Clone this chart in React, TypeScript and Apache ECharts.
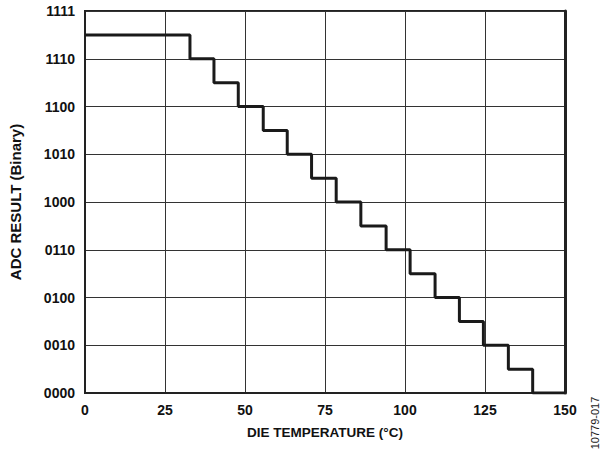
import React, { useEffect, useRef } from "react";
import * as echarts from "echarts";

// Temperatures (°C) where the output code changes, and the code held from each point on
const stepTemps = [0, 32.8, 40.3, 47.9, 55.7, 63.2, 70.8, 78.5, 86.2, 94.1, 101.6, 109.4, 117.0, 124.5, 132.3, 139.9, 150];
const stepCodes = [15, 14, 13, 12, 11, 10, 9, 8, 7, 6, 5, 4, 3, 2, 1, 0, 0];

const yTickValues = [0, 2, 4, 6, 8, 10, 12, 14, 16];
const yTickLabels = ["0000", "0010", "0100", "0110", "1000", "1010", "1100", "1110", "1111"];

const FONT = "'Liberation Sans', Arial, Helvetica, sans-serif";

export default function App() {
  const ref = useRef<HTMLDivElement>(null);
  useEffect(() => {
    if (!ref.current) return;
    const chart = echarts.init(ref.current, undefined, { renderer: "svg" });
    const labelMap: Record<number, string> = {};
    yTickValues.forEach((v, i) => (labelMap[v] = yTickLabels[i]));
    chart.setOption({
      animation: false,
      backgroundColor: "#ffffff",
      textStyle: { fontFamily: FONT },
      grid: {
        left: 85,
        top: 11,
        right: 37,
        bottom: 59,
        show: true,
        borderColor: "#222222",
        borderWidth: 2,
        backgroundColor: "transparent",
      },
      xAxis: {
        type: "value",
        min: 0,
        max: 150,
        interval: 25,
        name: "DIE TEMPERATURE (°C)",
        nameLocation: "middle",
        nameGap: 32,
        nameTextStyle: { fontFamily: FONT, fontWeight: "bold", fontSize: 13.5, color: "#111" },
        axisLine: { show: true, lineStyle: { color: "#222", width: 2 } },
        axisTick: { show: false },
        axisLabel: { fontFamily: FONT, fontWeight: "bold", fontSize: 14, color: "#111", margin: 10 },
        splitLine: { show: true, lineStyle: { color: "#333", width: 1 } },
      },
      yAxis: [
        {
          type: "value",
          min: 0,
          max: 16,
          interval: 2,
          name: "ADC RESULT (Binary)",
          nameLocation: "middle",
          nameGap: 62,
          nameRotate: 90,
          nameTextStyle: { fontFamily: FONT, fontWeight: "bold", fontSize: 15, color: "#111" },
          axisLine: { show: true, lineStyle: { color: "#222", width: 2 } },
          axisTick: { show: false },
          axisLabel: {
            fontFamily: FONT,
            fontWeight: "bold",
            fontSize: 14,
            color: "#111",
            margin: 10,
            formatter: (v: number) => labelMap[v] ?? "",
          },
          splitLine: { show: true, lineStyle: { color: "#333", width: 1 } },
        },
        {
          type: "value",
          min: 0,
          max: 16,
          interval: 2,
          position: "right",
          axisLine: { show: true, lineStyle: { color: "#222", width: 3 } },
          axisTick: { show: false },
          axisLabel: { show: false },
          splitLine: { show: false },
        },
      ],
      graphic: [
        {
          type: "text",
          x: 595,
          y: 423,
          rotation: Math.PI / 2,
          style: {
            text: "10779-017",
            font: `11px ${FONT}`,
            fill: "#222",
            textAlign: "center",
            textVerticalAlign: "middle",
          },
        },
      ],
      series: [
        {
          type: "line",
          step: "end",
          showSymbol: false,
          data: stepTemps.map((t, i) => [t, stepCodes[i]]),
          lineStyle: { color: "#1a1a1a", width: 3 },
          z: 5,
        },
      ],
    });
    return () => chart.dispose();
  }, []);
  return <div ref={ref} style={{ width: 602, height: 452, position: "absolute", left: 0, top: 0 }} />;
}
